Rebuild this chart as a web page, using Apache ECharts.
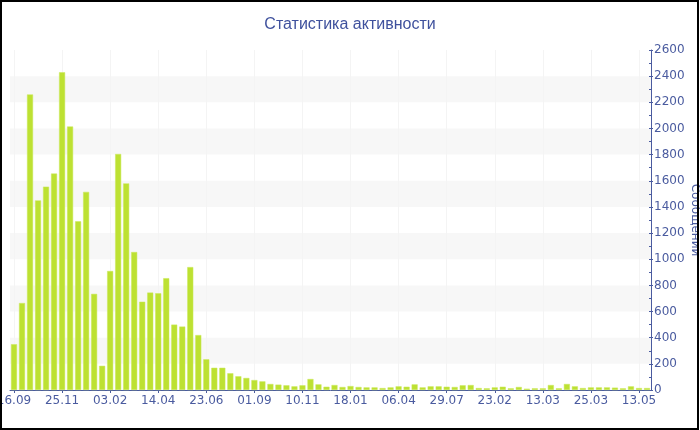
<!DOCTYPE html>
<html>
<head>
<meta charset="utf-8">
<script src="https://cdn.jsdelivr.net/npm/echarts@6/dist/echarts.min.js"></script>
<style>
  html, body { margin: 0; padding: 0; background: #fff; }
  #chart { position: absolute; left: 0; top: 0; width: 700px; height: 430px; }
  #frame { position: absolute; left: 0; top: 0; width: 699px; height: 430px; box-sizing: border-box; border: 2px solid #000; pointer-events: none; }
</style>
</head>
<body>
<div id="chart"></div>
<div id="frame"></div>
<script>
const titleText = 'Статистика активности';
const axisName = 'Сообщений';

const categories = [
  '16.09','28.09','10.10','22.10','02.11','14.11',
  '25.11','07.12','19.12','30.12','11.01','23.01',
  '03.02','15.02','27.02','10.03','22.03','02.04',
  '14.04','26.04','07.05','19.05','31.05','11.06',
  '23.06','05.07','16.07','28.07','09.08','20.08',
  '01.09','13.09','24.09','06.10','18.10','29.10',
  '10.11','22.11','03.12','15.12','27.12','07.01',
  '18.01','30.01','12.02','25.02','11.03','24.03',
  '06.04','25.04','14.05','02.06','21.06','10.07',
  '29.07','02.09','07.10','11.11','16.12','20.01',
  '23.02','26.02','01.03','04.03','07.03','10.03',
  '13.03','15.03','17.03','19.03','21.03','23.03',
  '25.03','02.04','10.04','18.04','26.04','04.05',
  '13.05','21.05'
];

const messages = [
  350, 665, 2260, 1450, 1555, 1655,
  2430, 2015, 1290, 1515, 735, 185,
  910, 1805, 1580, 1055, 675, 745,
  740, 855, 500, 485, 940, 420,
  235, 170, 170, 128, 105, 92,
  76, 66, 46, 41, 36, 28,
  36, 84, 43, 25, 38, 23,
  30, 23, 20, 20, 15, 20,
  28, 25, 43, 20, 28, 28,
  25, 23, 36, 38, 15, 13,
  20, 25, 13, 23, 10, 13,
  13, 38, 13, 46, 28, 15,
  20, 20, 20, 18, 13, 28,
  15, 15
];

const yMin = 0, yMax = 2600, yStep = 200;

const axisColor = '#4a5b9f';
const fontFam = 'DejaVu Sans, Verdana, sans-serif';

const chart = echarts.init(document.getElementById('chart'), null, { renderer: 'canvas' });
chart.setOption({
  animation: false,
  backgroundColor: '#ffffff',
  title: {
    text: titleText,
    left: 'center',
    top: 17,
    padding: 0,
    textStyle: { color: '#3f519d', fontSize: 16, fontWeight: 'normal', fontFamily: 'Liberation Sans, Arial, sans-serif' }
  },
  grid: { left: 10, right: 49, top: 50, bottom: 40, containLabel: false, outerBoundsMode: 'none' },
  xAxis: {
    type: 'category',
    data: categories,
    boundaryGap: true,
    axisLine: { show: true, lineStyle: { color: axisColor, width: 1 } },
    axisTick: { show: true, alignWithLabel: true, interval: 5, length: 3, lineStyle: { color: axisColor } },
    axisLabel: { interval: 5, color: axisColor, fontSize: 12, fontFamily: fontFam, margin: 5 },
    splitLine: { show: true, interval: 5, alignWithLabel: true, lineStyle: { color: '#f4f4f4', width: 1 } }
  },
  yAxis: [{
    type: 'value',
    position: 'right',
    min: yMin, max: yMax, interval: yStep,
    name: axisName,
    nameLocation: 'middle',
    nameRotate: -90,
    nameGap: 38,
    nameMoveOverlap: false,
    nameTextStyle: { color: axisColor, fontSize: 12, fontFamily: fontFam },
    axisLine: { show: true, lineStyle: { color: axisColor, width: 1 } },
    axisTick: { show: true, inside: true, length: 2, lineStyle: { color: axisColor } },
    minorTick: { show: true, splitNumber: 2, length: 2, lineStyle: { color: axisColor } },
    axisLabel: { color: axisColor, fontSize: 12, fontFamily: fontFam, margin: 3, formatter: function (v) { return String(v); } },
    splitLine: { show: false },
    splitArea: { show: true, areaStyle: { color: ['rgba(255,255,255,0)', '#f7f7f7'] } }
  }, {
    type: 'value',
    position: 'right',
    offset: 0,
    min: yMin, max: yMax, interval: yStep,
    axisLine: { show: false },
    axisTick: { show: true, inside: false, length: 2, lineStyle: { color: axisColor } },
    axisLabel: { show: false },
    splitLine: { show: false }
  }],
  series: [{
    type: 'bar',
    data: messages,
    yAxisIndex: 0,
    barCategoryGap: '25%',
    itemStyle: { color: '#bde132', borderColor: '#cbe85a', borderWidth: 0.5 }
  }]
});
</script>
</body>
</html>
